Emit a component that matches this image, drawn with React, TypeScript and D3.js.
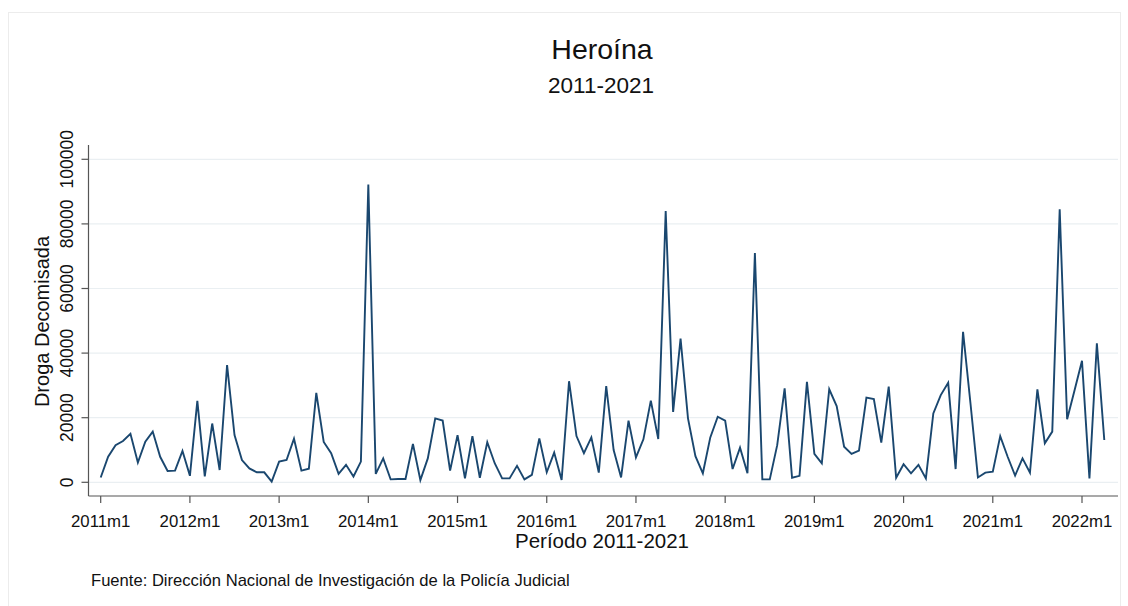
import React from "react";
import * as d3 from "d3";

const startYear = 2011;
const values2011 = [1500, 7900, 11500, 12800, 15000, 6100, 12600, 15700, 7900, 3500, 3600, 9700];
const values2012 = [2000, 25200, 1800, 18200, 3800, 36300, 14600, 6900, 4300, 3100, 3100, 200];
const values2013 = [6400, 6900, 13500, 3600, 4200, 27700, 12500, 9000, 2600, 5400, 1800, 6400];
const values2014 = [92200, 2600, 7400, 900, 1000, 1000, 11900, 700, 7400, 19800, 19100, 3600];
const values2015 = [14600, 1200, 14300, 1400, 12400, 5900, 1200, 1200, 5100, 900, 2300, 13600];
const values2016 = [3100, 9200, 700, 31300, 14300, 9000, 13900, 3000, 29800, 10000, 1500, 19100];
const values2017 = [7700, 13300, 25300, 13400, 84000, 21800, 44500, 19800, 8100, 2800, 13900, 20300];
const values2018 = [19100, 4100, 10700, 2800, 71000, 900, 900, 11500, 29100, 1400, 2000, 31100];
const values2019 = [8800, 5900, 28800, 23600, 11000, 8800, 9800, 26200, 25800, 12300, 29600, 1400];
const values2020 = [5600, 2800, 5400, 1200, 21300, 27000, 30800, 4100, 46600, 24400, 1500, 3000];
const values2021 = [3300, 14300, 7900, 2100, 7400, 3000, 28800, 12100, 15700, 84500, 19500, 28500];
const values2022 = [37600, 1200, 43000, 13100];

const series = [
  ...values2011, ...values2012, ...values2013, ...values2014, ...values2015, ...values2016,
  ...values2017, ...values2018, ...values2019, ...values2020, ...values2021, ...values2022,
];

const xTickYears = [2011, 2012, 2013, 2014, 2015, 2016, 2017, 2018, 2019, 2020, 2021, 2022];
const yTicks = [0, 20000, 40000, 60000, 80000, 100000];

const title = "Heroína";
const subtitle = "2011-2021";
const yTitle = "Droga Decomisada";
const xTitle = "Período 2011-2021";
const footer = "Fuente: Dirección Nacional de Investigación de la Policía Judicial";

const W = 1128;
const H = 606;
const FONT = "'Liberation Sans', Arial, Helvetica, sans-serif";

export default function App() {
  const plotLeft = 88.5;
  const plotRight = 1118;
  const plotBottom = 496;
  const plotTop = 145;

  const x = d3.scaleLinear().domain([0, 132]).range([100.7, 1082]);
  const y = d3.scaleLinear().domain([0, 100000]).range([482.3, 159.3]);

  const line = d3
    .line<number>()
    .x((_, i) => x(i))
    .y((d) => y(d));

  const pathD = line(series) || "";
  const textColor = "#111";
  const axisColor = "#555";

  return (
    <svg
      width={W}
      height={H}
      style={{ position: "absolute", left: 0, top: 0, background: "#fff" }}
      fontFamily={FONT}
    >
      <rect x={0} y={0} width={W} height={H} fill="#fff" />
      <rect x={8.5} y={12.5} width={1112} height={600} fill="none" stroke="#ececec" strokeWidth={1} />

      {/* gridlines */}
      {yTicks.map((t) => (
        <line
          key={"g" + t}
          x1={plotLeft}
          x2={plotRight}
          y1={y(t)}
          y2={y(t)}
          stroke="#eaeff2"
          strokeWidth={1.2}
        />
      ))}

      {/* axes */}
      <line x1={plotLeft} x2={plotLeft} y1={plotTop} y2={plotBottom} stroke={axisColor} strokeWidth={1.2} />
      <line x1={plotLeft} x2={plotRight} y1={plotBottom} y2={plotBottom} stroke={axisColor} strokeWidth={1.2} />

      {yTicks.map((t) => (
        <g key={"yt" + t}>
          <line x1={plotLeft - 7} x2={plotLeft} y1={y(t)} y2={y(t)} stroke={axisColor} strokeWidth={1.2} />
          <text
            transform={`translate(73,${y(t)}) rotate(-90)`}
            textAnchor="middle"
            fontSize={17.5}
            fill={textColor}
          >
            {t}
          </text>
        </g>
      ))}

      {xTickYears.map((yr) => {
        const xi = x((yr - startYear) * 12);
        return (
          <g key={"xt" + yr}>
            <line x1={xi} x2={xi} y1={plotBottom} y2={plotBottom + 7} stroke={axisColor} strokeWidth={1.2} />
            <text x={xi} y={526.5} textAnchor="middle" fontSize={16.8} fill={textColor}>
              {yr + "m1"}
            </text>
          </g>
        );
      })}

      <path d={pathD} fill="none" stroke="#1a476f" strokeWidth={1.9} strokeLinejoin="miter" />

      {/* titles */}
      <text x={602} y={59.3} textAnchor="middle" fontSize={28.5} fill={textColor}>
        {title}
      </text>
      <text x={601} y={93} textAnchor="middle" fontSize={22.5} fill={textColor}>
        {subtitle}
      </text>
      <text
        transform={`translate(49,321.5) rotate(-90)`}
        textAnchor="middle"
        fontSize={20}
        fill={textColor}
      >
        {yTitle}
      </text>
      <text x={602} y={547.5} textAnchor="middle" fontSize={20.5} fill={textColor}>
        {xTitle}
      </text>
      <text x={91} y={586} fontSize={16.6} fill={textColor}>
        {footer}
      </text>
    </svg>
  );
}
